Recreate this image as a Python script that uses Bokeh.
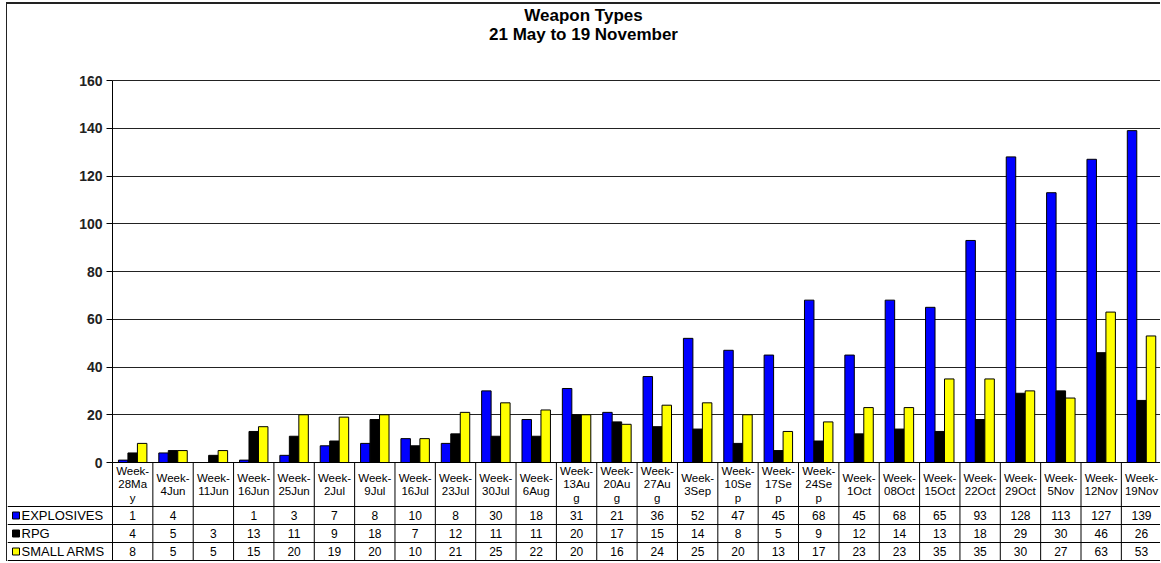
import numpy as np
from bokeh.plotting import figure
from bokeh.layouts import column
from bokeh.models import Range1d, ColumnDataSource, FixedTicker, LinearAxis, Grid
from bokeh.transform import dodge
from bokeh.core.properties import value
from bokeh.embed import file_html
from bokeh.resources import INLINE

# ---------------- data ----------------
weeks = ["Week-\n28Ma\ny", "Week-\n4Jun", "Week-\n11Jun", "Week-\n16Jun", "Week-\n25Jun",
         "Week-\n2Jul", "Week-\n9Jul", "Week-\n16Jul", "Week-\n23Jul", "Week-\n30Jul",
         "Week-\n6Aug", "Week-\n13Au\ng", "Week-\n20Au\ng", "Week-\n27Au\ng", "Week-\n3Sep",
         "Week-\n10Se\np", "Week-\n17Se\np", "Week-\n24Se\np", "Week-\n1Oct", "Week-\n08Oct",
         "Week-\n15Oct", "Week-\n22Oct", "Week-\n29Oct", "Week-\n5Nov", "Week-\n12Nov",
         "Week-\n19Nov"]
explosives = [1, 4, None, 1, 3, 7, 8, 10, 8, 30, 18, 31, 21, 36, 52, 47, 45, 68, 45, 68,
              65, 93, 128, 113, 127, 139]
rpg = [4, 5, 3, 13, 11, 9, 18, 7, 12, 11, 11, 20, 17, 15, 14, 8, 5, 9, 12, 14, 13, 18,
       29, 30, 46, 26]
small_arms = [8, 5, 5, 15, 20, 19, 20, 10, 21, 25, 22, 20, 16, 24, 25, 20, 13, 17, 23, 23,
              35, 35, 30, 27, 63, 53]
series_names = ["EXPLOSIVES", "RPG", "SMALL ARMS"]
series_colors = ["#0000FF", "#000000", "#FFFF00"]
y_ticks = [0, 20, 40, 60, 80, 100, 120, 140, 160]
title_lines = ["Weapon Types", "21 May to 19 November"]

# ---------------- layout (page pixels) ----------------
PX_L, PX_R = 7, 1160          # figure left / right on page
PX_T, PX_B = 5, 562           # figure top / bottom on page
AX_X = 112                    # y-axis position
Y0_PX, Y160_PX = 463, 81      # value 0 / top tick
W = PX_R - PX_L
H = PX_B - PX_T
N = len(weeks)
X_END = N - 0.03              # last column edge lies just past the visible area
unit = (PX_R - AX_X) / X_END
x_start = -(AX_X - PX_L) / unit
ppv = (Y0_PX - Y160_PX) / y_ticks[-1]
y_lo = -(PX_B - Y0_PX) / ppv
y_hi = y_ticks[-1] + (Y160_PX - PX_T) / ppv
FONT = value("Liberation Sans")

def clean(v):
    return [np.nan if a is None else a for a in v]

src = ColumnDataSource(dict(
    x=[i + 0.5 for i in range(N)],
    explosives=clean(explosives),
    rpg=clean(rpg),
    small_arms=clean(small_arms),
))

p = figure(width=W, height=H, x_range=Range1d(x_start, X_END), y_range=Range1d(y_lo, y_hi),
           toolbar_location=None, output_backend="svg", min_border=0,
           x_axis_location=None, y_axis_location=None)
p.outline_line_color = None
p.grid.visible = False
# pixel-based helper ranges for the title and the data table
p.extra_x_ranges = {"px": Range1d(PX_L, PX_R)}
p.extra_y_ranges = {"px": Range1d(PX_B - Y0_PX, PX_T - Y0_PX)}

# gridlines and y axis
grid = Grid(dimension=1, ticker=FixedTicker(ticks=y_ticks), cross_bounds=(0, N),
            grid_line_color="#222222", grid_line_width=1)
p.add_layout(grid)
yax = LinearAxis(fixed_location=0, bounds=(0, y_ticks[-1]), ticker=FixedTicker(ticks=y_ticks))
yax.major_label_text_font = "Liberation Sans"
yax.major_label_text_font_style = "bold"
yax.major_label_text_font_size = "14px"
yax.major_label_text_color = "#222222"
yax.major_tick_in = 0
yax.major_tick_out = 6
yax.minor_tick_line_color = None
yax.axis_line_color = "#000000"
yax.major_tick_line_color = "#000000"
yax.major_label_standoff = 4
p.add_layout(yax, "left")

# title
p.text(x=[583, 583], y=[16 - Y0_PX, 35 - Y0_PX], text=title_lines, text_align="center",
       text_baseline="middle", text_font=FONT, text_font_style="bold",
       text_font_size="17px", text_color="#000000",
       x_range_name="px", y_range_name="px")

# bars
bw = 0.235
for key, off, col in zip(["explosives", "rpg", "small_arms"], [-bw, 0, bw], series_colors):
    p.vbar(x=dodge("x", off), top=key, width=bw, source=src,
           fill_color=col, line_color="#000000", line_width=1)

# ---------------- data table (y in pixels below the zero line) ----------------
HDR, ROW = 44, 18
TOT = HDR + 3 * ROW
xs = list(range(N + 1))
p.segment(x0=xs, y0=[0] * len(xs), x1=xs, y1=[TOT] * len(xs),
          line_color="#000000", line_width=1, y_range_name="px")
row_lines = [HDR + k * ROW for k in range(4)]
p.segment(x0=[x_start] * 4, y0=row_lines, x1=[N] * 4, y1=row_lines,
          line_color="#000000", line_width=1, y_range_name="px")
p.segment(x0=[0], y0=[0], x1=[N], y1=[0], line_color="#000000", line_width=1,
          y_range_name="px")

p.text(x=[i + 0.5 for i in range(N)], y=[HDR / 2] * N, text=weeks, text_align="center",
       text_baseline="middle", text_font=FONT, text_font_size="11.5px",
       text_line_height=1.1, text_color="#000000", y_range_name="px")

for r, (name, vals, col) in enumerate(zip(series_names, [explosives, rpg, small_arms], series_colors)):
    yc = HDR + r * ROW + ROW / 2
    p.text(x=[i + 0.5 for i in range(N)], y=[yc] * N,
           text=["" if v is None else str(v) for v in vals], text_align="center",
           text_baseline="middle", text_font=FONT, text_font_size="12px",
           text_color="#000000", y_range_name="px")
    p.rect(x=[15.5], y=[yc], width=7, height=7, width_units="screen",
           height_units="screen", fill_color=col, line_color="#000000", line_width=1,
           x_range_name="px", y_range_name="px")
    p.text(x=[21], y=[yc], text=[name], text_align="left",
           text_baseline="middle", text_font=FONT, text_font_size="13px",
           text_color="#000000", x_range_name="px", y_range_name="px")

layout = column(p, spacing=0,
                styles={"margin-left": "6px", "margin-top": "2px",
                        "border-left": "1px solid #222222", "border-top": "2px solid #222222"})

open("out.html", "w").write(file_html(layout, INLINE))
